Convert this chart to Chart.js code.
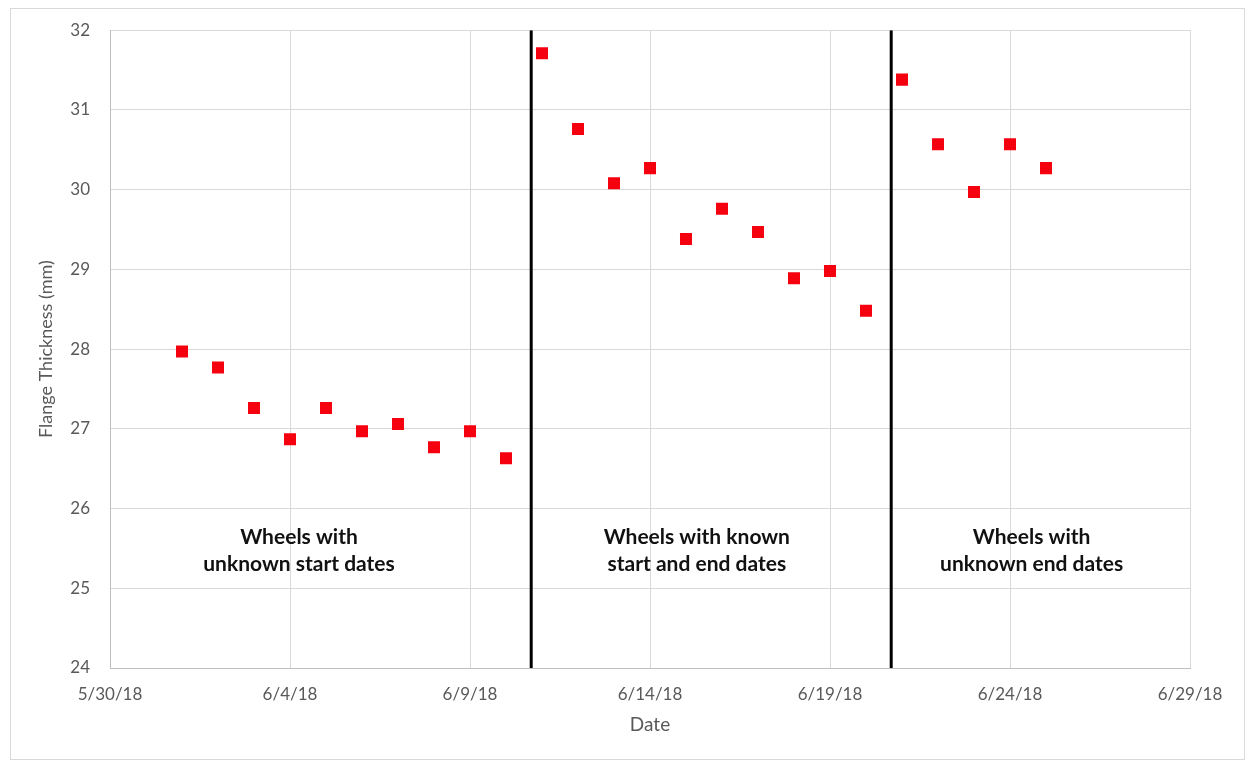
<!DOCTYPE html>
<html>
<head>
<meta charset="utf-8">
<script src="https://cdn.jsdelivr.net/npm/chart.js@4.4.1/dist/chart.umd.min.js"></script>
<style>
    html, body { margin: 0; padding: 0; background: #fff; }
    #wrap { width: 1250px; height: 763px; position: relative; }
</style>
</head>
<body>
<div id="wrap"><canvas id="flangeChart" width="1250" height="763"></canvas></div>
<script>
// measurement dates (m/d/yy) and flange thickness in mm
var dates = ['6/1/18', '6/2/18', '6/3/18', '6/4/18', '6/5/18', '6/6/18', '6/7/18', '6/8/18', '6/9/18', '6/10/18',
             '6/11/18', '6/12/18', '6/13/18', '6/14/18', '6/15/18', '6/16/18', '6/17/18', '6/18/18', '6/19/18', '6/20/18',
             '6/21/18', '6/22/18', '6/23/18', '6/24/18', '6/25/18'];
var thickness = [27.97, 27.77, 27.26, 26.87, 27.26, 26.97, 27.06, 26.77, 26.97, 26.63,
                 31.71, 30.76, 30.08, 30.27, 29.38, 29.76, 29.47, 28.89, 28.98, 28.48,
                 31.38, 30.57, 29.97, 30.57, 30.27];

// x axis: days after 5/30/18, ticks every 5 days
var startDate = '5/30/18';
var xMin = 0, xMax = 30, xStep = 5;
var yMin = 24, yMax = 32, yStep = 1;

// dividers between the wheel groups (days after 5/30/18)
var dividerDays = [11.7, 21.7];

var regionLabels = [
    ['Wheels with', 'unknown start dates'],
    ['Wheels with known', 'start and end dates'],
    ['Wheels with', 'unknown end dates']
];
var regionCenterDays = [5.25, 16.3, 25.6];
var regionCenterValue = 25.47;

function parseDate(s) {
    var p = s.split('/');
    return new Date(2000 + parseInt(p[2]), parseInt(p[0]) - 1, parseInt(p[1]));
}
var start = parseDate(startDate);
function dayOffset(s) {
    return Math.round((parseDate(s) - start) / 86400000);
}
function formatDay(v) {
    var d = new Date(start.getFullYear(), start.getMonth(), start.getDate() + v);
    return (d.getMonth() + 1) + '/' + d.getDate() + '/' + String(d.getFullYear()).slice(2);
}

var points = dates.map(function (s, i) { return { x: dayOffset(s), y: thickness[i] }; });

var datasets = [{
    label: 'Flange Thickness',
    data: points,
    showLine: false,
    pointStyle: 'rect',
    pointRadius: 8.5,
    pointHoverRadius: 8.5,
    pointBackgroundColor: '#f5000f',
    pointBorderColor: '#f5000f',
    pointBorderWidth: 0
}];
dividerDays.forEach(function (d) {
    datasets.push({
        label: 'divider',
        data: [{ x: d, y: yMin }, { x: d, y: yMax }],
        showLine: true,
        borderColor: '#000',
        borderWidth: 3,
        pointRadius: 0,
        pointHoverRadius: 0
    });
});

var frame = {
    id: 'frame',
    beforeDraw: function (chart) {
        var c = chart.ctx;
        c.save();
        c.strokeStyle = '#d9d9d9';
        c.lineWidth = 1;
        c.strokeRect(10.5, 8.5, 1234, 751);
        c.restore();
    }
};

var regionText = {
    id: 'regionText',
    afterDatasetsDraw: function (chart) {
        var c = chart.ctx;
        var xs = chart.scales.x, ys = chart.scales.y;
        c.save();
        c.fillStyle = '#111';
        c.font = 'bold 21px Lato, "Open Sans", sans-serif';
        c.textAlign = 'center';
        c.textBaseline = 'middle';
        regionLabels.forEach(function (lines, i) {
            var cx = xs.getPixelForValue(regionCenterDays[i]);
            var cy = ys.getPixelForValue(regionCenterValue);
            var lh = 27;
            lines.forEach(function (t, j) {
                c.fillText(t, cx, cy + (j - (lines.length - 1) / 2) * lh);
            });
        });
        c.restore();
    }
};

var ctx = document.getElementById('flangeChart').getContext('2d');
var flangeChart = new Chart(ctx, {
    type: 'scatter',
    data: { datasets: datasets },
    options: {
        responsive: false,
        animation: false,
        layout: { padding: { left: 0, right: 60, top: 30, bottom: 0 } },
        plugins: {
            legend: { display: false },
            tooltip: { enabled: false }
        },
        scales: {
            x: {
                type: 'linear',
                min: xMin,
                max: xMax,
                afterFit: function (scale) { scale.height = 95; },
                ticks: {
                    stepSize: xStep,
                    color: '#595959',
                    font: { family: 'Lato, "Open Sans", sans-serif', size: 17 },
                    padding: 16,
                    maxRotation: 0,
                    callback: function (v) { return formatDay(v); }
                },
                grid: { color: '#d9d9d9', drawTicks: false },
                border: { color: '#bfbfbf' },
                title: {
                    display: true,
                    text: 'Date',
                    color: '#595959',
                    font: { family: 'Lato, "Open Sans", sans-serif', size: 19 },
                    padding: { top: 0, bottom: 27 }
                }
            },
            y: {
                min: yMin,
                max: yMax,
                afterFit: function (scale) { scale.width = 110; },
                ticks: {
                    stepSize: yStep,
                    color: '#595959',
                    font: { family: 'Lato, "Open Sans", sans-serif', size: 17 },
                    padding: 20
                },
                grid: { color: '#d9d9d9', drawTicks: false },
                border: { color: '#bfbfbf' },
                title: {
                    display: true,
                    text: 'Flange Thickness (mm)',
                    color: '#595959',
                    font: { family: 'Lato, "Open Sans", sans-serif', size: 18 },
                    padding: { top: 35, bottom: 0 }
                }
            }
        }
    },
    plugins: [frame, regionText]
});
</script>
</body>
</html>
